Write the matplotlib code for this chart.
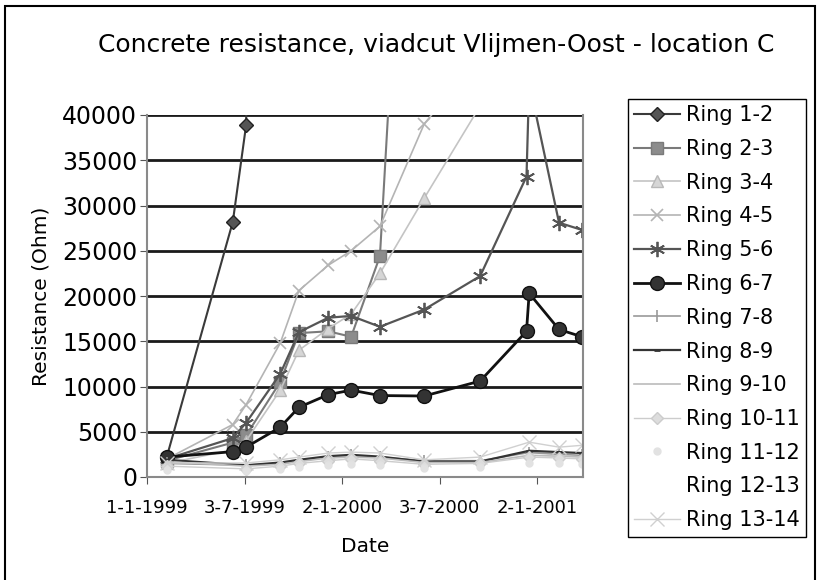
import matplotlib
import numpy as np

matplotlib.use("Agg")
import matplotlib.dates as mdates  # noqa: E402
import matplotlib.pyplot as plt  # noqa: E402
from matplotlib.patches import Rectangle  # noqa: E402

nan = np.nan

DATES = ["1999-02-07", "1999-06-11", "1999-07-06", "1999-09-08", "1999-10-13",
         "1999-12-07", "2000-01-19", "2000-03-13", "2000-06-04", "2000-09-17",
         "2000-12-13", "2000-12-18", "2001-02-12", "2001-03-27"]

RING_1_2 = [2200, 28200, 38900, 400000, nan, nan, nan, nan, nan, nan, nan, nan, nan, nan]
RING_2_3 = [1800, 3800, 4600, 10500, 15900, 16100, 15500, 24400, 110000, nan, nan, nan, nan, nan]
RING_3_4 = [1500, 3000, 4000, 9600, 14000, 16400, 18000, 22500, 30800, 41000, nan, nan, nan, nan]
RING_4_5 = [2000, 5800, 8000, 14800, 20600, 23400, 25000, 27700, 39000, 46600, nan, nan, nan, nan]
RING_5_6 = [2000, 4300, 6000, 11400, 16000, 17600, 17800, 16600, 18500, 22200, 33200, 43600, 28100, 27300]
RING_6_7 = [2200, 2800, 3300, 5500, 7700, 9100, 9600, 9000, 8950, 10600, 16100, 20300, 16300, 15500]
RING_7_8 = [1500, nan, 1300, 1500, 1800, 2200, 2400, 2200, 1800, 1800, nan, 2700, 2500, 2400]
RING_8_9 = [1900, nan, 1300, 1600, 1900, 2300, 2450, 2250, 1700, 1700, nan, 2900, 2750, 2650]
RING_9_10 = [1700, nan, 1200, 1400, 1700, 2100, 2200, 2100, 1600, 1600, nan, 2400, 2300, 2200]
RING_10_11 = [1200, nan, 900, 1200, 1500, 1800, 2000, 1800, 1400, 1500, nan, 2200, 2100, 2000]
RING_11_12 = [800, nan, 700, 900, 1100, 1300, 1400, 1300, 1000, 1100, nan, 1600, 1500, 1400]
RING_12_13 = [nan] * 14
RING_13_14 = [1550, nan, 1550, 1900, 2200, 2650, 2750, 2650, 1900, 2200, nan, 3850, 3300, 3500]

LABELS = ["Ring 1-2", "Ring 2-3", "Ring 3-4", "Ring 4-5", "Ring 5-6", "Ring 6-7", "Ring 7-8",
          "Ring 8-9", "Ring 9-10", "Ring 10-11", "Ring 11-12", "Ring 12-13", "Ring 13-14"]
VALUES = [RING_1_2, RING_2_3, RING_3_4, RING_4_5, RING_5_6, RING_6_7, RING_7_8,
          RING_8_9, RING_9_10, RING_10_11, RING_11_12, RING_12_13, RING_13_14]

TICK_DATES = ["1999-01-01", "1999-07-03", "2000-01-02", "2000-07-03", "2001-01-02"]
TICK_LABELS = ["1-1-1999", "3-7-1999", "2-1-2000", "3-7-2000", "2-1-2001"]

STYLES = [
    dict(color="#3a3a3a", marker="D", ms=7, mfc="#555555", mec="#222222", lw=1.5),
    dict(color="#7a7a7a", marker="s", ms=8, mfc="#8c8c8c", mec="#7a7a7a", lw=1.5),
    dict(color="#c4c4c4", marker="^", ms=8, mfc="#d6d6d6", mec="#b8b8b8", lw=1.2),
    dict(color="#b4b4b4", marker="x", ms=9, mew=1.2, lw=1.2),
    dict(color="#555555", marker=(6, 2, 0), ms=11, mew=1.3, lw=1.6),
    dict(color="#111111", marker="o", ms=10, mfc="#333333", mec="#111111", lw=2.0),
    dict(color="#999999", marker="|", ms=9, mew=1.2, lw=1.2),
    dict(color="#333333", marker="_", ms=5, mew=2, lw=1.6),
    dict(color="#bbbbbb", marker="None", lw=1.2),
    dict(color="#cccccc", marker="D", ms=6, mfc="#dddddd", lw=1.0),
    dict(color="#e2e2e2", marker="o", ms=5, ls="None"),
    dict(color="white", marker="None", ls="None"),
    dict(color="#d0d0d0", marker="x", ms=10, mew=1.0, lw=1.0),
]

x = mdates.datestr2num(DATES)

fig = plt.figure(figsize=(8.19, 5.80), dpi=100)
ax = fig.add_axes([147 / 819, 1 - 477 / 580, (583 - 147) / 819, (477 - 115) / 580])

for label, vals, st in zip(LABELS, VALUES, STYLES):
    v = np.array(vals, dtype=float)
    ok = ~np.isnan(v)
    ax.plot(x[ok], v[ok], label=label, **st)

ax.set_ylim(0, 40000)
ax.set_yticks(np.arange(0, 40001, 5000))
ax.set_xlim(mdates.datestr2num("1999-01-01"), mdates.datestr2num("2001-03-29"))
ax.set_xticks(mdates.datestr2num(TICK_DATES))
ax.set_xticklabels(TICK_LABELS, fontsize=13)
ax.tick_params(axis="y", labelsize=17, length=5, color="#555555", pad=2)
ax.tick_params(axis="x", length=5, color="#555555", pad=11)
ax.grid(axis="y", color="#1a1a1a", lw=2.0)
ax.set_axisbelow(True)
ax.spines["top"].set_visible(False)
for s in ("left", "bottom", "right"):
    ax.spines[s].set_color("#8a8a8a")
    ax.spines[s].set_linewidth(1.5)

ax.set_xlabel("Date", fontsize=14.5, labelpad=14)
ax.set_ylabel("Resistance (Ohm)", fontsize=14.5, labelpad=8)
fig.text(436 / 819, 1 - 45 / 580, "Concrete resistance, viadcut Vlijmen-Oost - location C",
         ha="center", va="center", fontsize=18)

leg = ax.legend(loc="upper left", bbox_to_anchor=(628 / 819, 1 - 99 / 580),
                bbox_transform=fig.transFigure, borderaxespad=0, fontsize=15,
                fancybox=False, framealpha=1, edgecolor="black", handlelength=2.2,
                handletextpad=0.3, labelspacing=0.66, borderpad=0.3)
leg.get_frame().set_linewidth(1.0)

fig.patches.append(Rectangle((5 / 819, -0.02), 810 / 819, 1.02 - 6 / 580,
                             transform=fig.transFigure, fill=False, ec="black", lw=1.5))

fig.savefig("out.png", dpi=100)
